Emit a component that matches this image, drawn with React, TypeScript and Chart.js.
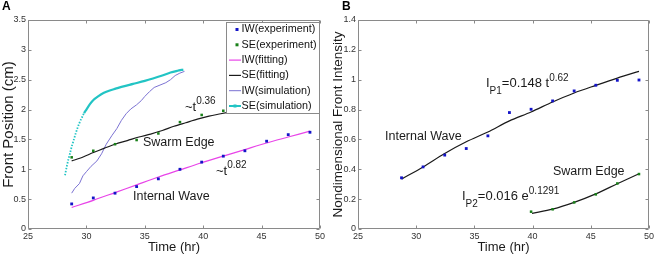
import React, { useEffect, useRef } from 'react';
import { Chart, registerables } from 'chart.js';

Chart.register(...registerables);

// ---------------- DATA ----------------
const timesExp = [28.74, 30.59, 32.45, 34.3, 36.16, 38.01, 39.87, 41.72, 43.57, 45.43, 47.28, 49.14];

// Panel A: front position (cm)
const iwExpA = [0.42, 0.52, 0.6, 0.71, 0.84, 1.0, 1.12, 1.22, 1.31, 1.47, 1.58, 1.62];
const seExpTimesA = [28.74, 30.59, 32.45, 34.3, 36.16, 38.01, 39.87, 41.72];
const seExpA = [1.2, 1.31, 1.42, 1.49, 1.6, 1.79, 1.91, 1.98];
const iwFitA = [0.36, 0.48, 0.61, 0.74, 0.87, 0.99, 1.11, 1.22, 1.33, 1.44, 1.54, 1.64];
const seFitTimesA = [28.74, 29.5, 30.6, 31.5, 32.45, 33.5, 34.5, 35.5, 36.5, 37.5, 38.5, 39.5, 40.5, 41.5, 42.5];
const seFitA = [1.14, 1.19, 1.28, 1.35, 1.42, 1.48, 1.54, 1.59, 1.65, 1.72, 1.78, 1.84, 1.89, 1.93, 1.97];
const iwSimTimesA = [28.74, 29.0, 29.4, 29.7, 30.0, 30.4, 30.9, 31.3, 31.7, 32.2, 32.6, 33.0, 33.4, 33.8, 34.3, 34.7, 35.0, 35.4, 35.8, 36.3, 36.8, 37.2, 37.6, 38.0, 38.4];
const iwSimA = [0.6, 0.68, 0.76, 0.89, 0.96, 1.05, 1.14, 1.26, 1.42, 1.57, 1.68, 1.82, 1.93, 2.01, 2.08, 2.15, 2.22, 2.3, 2.37, 2.41, 2.45, 2.5, 2.57, 2.61, 2.64];
const seSimTimesA = [28.17, 28.3, 28.45, 28.6, 28.74, 28.9, 29.05, 29.2, 29.35, 29.5, 29.65, 29.8, 30.0, 30.3, 30.6, 31.0, 31.5, 32.0, 32.5, 33.0, 34.0, 35.0, 35.7, 36.5, 37.2, 37.8, 38.3];
const seSimA = [0.9, 1.03, 1.16, 1.27, 1.38, 1.48, 1.58, 1.67, 1.75, 1.82, 1.88, 1.94, 2.0, 2.09, 2.16, 2.22, 2.28, 2.32, 2.35, 2.38, 2.43, 2.48, 2.52, 2.57, 2.62, 2.65, 2.67];

// Panel B: nondimensional front intensity
const iwExpB = [0.343, 0.416, 0.495, 0.539, 0.624, 0.78, 0.802, 0.858, 0.925, 0.963, 0.996, 0.998];
const iwFitB = [0.334, 0.416, 0.506, 0.584, 0.65, 0.724, 0.784, 0.851, 0.911, 0.962, 1.011, 1.056];
const seTimesB = [39.87, 41.72, 43.57, 45.43, 47.28, 49.14];
const seExpB = [0.116, 0.132, 0.178, 0.232, 0.305, 0.368];
const seFitTimesB = [39.95, 41.72, 43.57, 45.43, 47.28, 49.14];
const seFitB = [0.105, 0.133, 0.178, 0.235, 0.303, 0.37];

const xTicks = [25, 30, 35, 40, 45, 50];
const yTicksA = [0, 0.5, 1, 1.5, 2, 2.5, 3, 3.5];
const yTicksB = [0, 0.2, 0.4, 0.6, 0.8, 1, 1.2, 1.4];

const legendLabelsA = ['IW(experiment)', 'SE(experiment)', 'IW(fitting)', 'SE(fitting)', 'IW(simulation)', 'SE(simulation)'];

// ---------------- STYLE ----------------
const FONT = '"Liberation Sans", Arial, Helvetica, sans-serif';
const C_BLUE = '#1414c8';
const C_GREEN = '#198019';
const C_MAG = '#e845e8';
const C_BLACK = '#1a1a1a';
const C_PURPLE = '#7b72d2';
const C_CYAN = '#22c4c4';
const C_FRAME = '#8a8a8a';

const pts = (xs: number[], ys: number[]) => xs.map((x, i) => ({ x, y: ys[i] }));

type Part = { t: string; size: number; dy: number };

function drawRich(ctx: CanvasRenderingContext2D, x: number, y: number, parts: Part[], color = '#1a1a1a') {
  ctx.save();
  ctx.fillStyle = color;
  ctx.textBaseline = 'middle';
  ctx.textAlign = 'left';
  let cx = x;
  for (const p of parts) {
    ctx.font = `${p.size}px ${FONT}`;
    ctx.fillText(p.t, cx, y + p.dy);
    cx += ctx.measureText(p.t).width;
  }
  ctx.restore();
}

function drawFrame(chart: any, xt: number[], yt: number[]) {
  const { ctx, chartArea } = chart;
  const { left, right, top, bottom } = chartArea;
  const sx = chart.scales.x;
  const sy = chart.scales.y;
  const L = Math.round(left) + 0.5;
  const R = Math.round(right) - 0.5;
  const T = Math.round(top) + 0.5;
  const B = Math.round(bottom) - 0.5;
  ctx.save();
  ctx.strokeStyle = C_FRAME;
  ctx.lineWidth = 1;
  ctx.beginPath();
  ctx.rect(L, T, R - L, B - T);
  const tl = 3;
  for (const v of xt) {
    const px = Math.round(sx.getPixelForValue(v)) + 0.5;
    ctx.moveTo(px, B);
    ctx.lineTo(px, B - tl);
    ctx.moveTo(px, T);
    ctx.lineTo(px, T + tl);
  }
  for (const v of yt) {
    const py = Math.round(sy.getPixelForValue(v)) + 0.5;
    ctx.moveTo(L, py);
    ctx.lineTo(L + tl, py);
    ctx.moveTo(R, py);
    ctx.lineTo(R - tl, py);
  }
  ctx.stroke();
  ctx.restore();
}

function panelLetter(ctx: CanvasRenderingContext2D, letter: string, x: number, y: number) {
  ctx.save();
  ctx.font = `bold 12px ${FONT}`;
  ctx.fillStyle = '#000';
  ctx.textBaseline = 'middle';
  ctx.fillText(letter, x, y);
  ctx.restore();
}

function baseOptions(yMax: number, yStep: number, yTitle: string, yTitleSize: number, padRight: number, fmt: (v: number) => string) {
  return {
    animation: false as const,
    responsive: false,
    maintainAspectRatio: false,
    events: [],
    layout: { padding: { top: 20, right: padRight, left: 0, bottom: 0 } },
    plugins: { legend: { display: false }, tooltip: { enabled: false } },
    scales: {
      x: {
        type: 'linear' as const,
        min: 25,
        max: 50,
        afterBuildTicks: (s: any) => { s.ticks = xTicks.map((v) => ({ value: v })); },
        afterFit: (s: any) => { s.height = 30; },
        grid: { display: false, drawTicks: false },
        border: { display: false },
        ticks: { padding: 2, color: '#333', font: { family: FONT, size: 9 }, maxRotation: 0, autoSkip: false },
        title: { display: true, text: 'Time (hr)', color: '#1a1a1a', font: { family: FONT, size: 13 }, padding: { top: 0, bottom: 4 } },
      },
      y: {
        type: 'linear' as const,
        min: 0,
        max: yMax,
        ticks: { stepSize: yStep, padding: 2, color: '#333', font: { family: FONT, size: 9 }, autoSkip: false, callback: (v: any) => fmt(Number(v)) },
        afterFit: (s: any) => { s.width = 28; },
        grid: { display: false, drawTicks: false },
        border: { display: false },
        title: { display: true, text: yTitle, color: '#1a1a1a', font: { family: FONT, size: yTitleSize }, padding: { top: 0, bottom: 0 } },
      },
    },
  };
}

const fmtNum = (v: number) => String(Number(v.toFixed(2)));

function PanelA() {
  const ref = useRef<HTMLCanvasElement | null>(null);
  useEffect(() => {
    if (!ref.current) return;
    const overlay = {
      id: 'overlayA',
      afterDatasetsDraw(chart: any) {
        const ctx: CanvasRenderingContext2D = chart.ctx;
        // annotations
        drawRich(ctx, 185, 107, [
          { t: '~t', size: 13, dy: 0 },
          { t: '0.36', size: 10, dy: -6 },
        ]);
        drawRich(ctx, 143, 143, [{ t: 'Swarm Edge', size: 12.5, dy: 0 }]);
        drawRich(ctx, 216, 171, [
          { t: '~t', size: 13, dy: 0 },
          { t: '0.82', size: 10, dy: -6 },
        ]);
        drawRich(ctx, 133, 197, [{ t: 'Internal Wave', size: 12.5, dy: 0 }]);
        drawFrame(chart, xTicks, yTicksA);
        // legend
        const bx = 226, by = 22, bw = 93, bh = 91;
        ctx.save();
        ctx.fillStyle = '#fff';
        ctx.fillRect(bx, by, bw, bh);
        ctx.strokeStyle = C_FRAME;
        ctx.lineWidth = 1;
        ctx.strokeRect(bx + 0.5, by + 0.5, bw, bh);
        const colors = [C_BLUE, C_GREEN, C_MAG, C_BLACK, C_PURPLE, C_CYAN];
        legendLabelsA.forEach((lab, i) => {
          const yy = by + 7.5 + i * 15.3;
          ctx.fillStyle = colors[i];
          ctx.strokeStyle = colors[i];
          if (i < 2) {
            ctx.fillRect(235.5, yy - 1.5, 3, 3);
          } else {
            ctx.lineWidth = i === 5 ? 2 : i === 4 ? 1 : 1.2;
            ctx.beginPath();
            ctx.moveTo(229, yy);
            ctx.lineTo(241, yy);
            ctx.stroke();
            if (i === 5) ctx.fillRect(233.5, yy - 1.5, 3, 3);
          }
          ctx.fillStyle = '#111';
          ctx.font = `10.8px ${FONT}`;
          ctx.textBaseline = 'middle';
          ctx.textAlign = 'left';
          ctx.fillText(lab, 241.5, yy);
        });
        ctx.restore();
        panelLetter(ctx, 'A', 2, 7);
      },
    };
    const chart = new Chart(ref.current, {
      type: 'scatter',
      data: {
        datasets: [
          { label: 'IW(experiment)', data: pts(timesExp, iwExpA), showLine: false, pointStyle: 'rect', pointRadius: 2, borderWidth: 0, backgroundColor: C_BLUE },
          { label: 'SE(experiment)', data: pts(seExpTimesA, seExpA), showLine: false, pointStyle: 'rect', pointRadius: 1.8, borderWidth: 0, backgroundColor: C_GREEN },
          { label: 'IW(fitting)', data: pts(timesExp, iwFitA), showLine: true, pointRadius: 0, borderWidth: 1.2, borderColor: C_MAG, tension: 0.3 },
          { label: 'SE(fitting)', data: pts(seFitTimesA, seFitA), showLine: true, pointRadius: 0, borderWidth: 1.2, borderColor: C_BLACK, tension: 0.3 },
          { label: 'IW(simulation)', data: pts(iwSimTimesA, iwSimA), showLine: true, pointRadius: 0, borderWidth: 1, borderColor: C_PURPLE, tension: 0 },
          {
            label: 'SE(simulation)', data: pts(seSimTimesA, seSimA), showLine: true, pointRadius: 0, borderWidth: 2.2, borderColor: C_CYAN, tension: 0.3,
            segment: {
              borderDash: (c: any) => (c.p0.parsed.x < 29.8 ? [1.5, 1.5] : undefined),
              borderWidth: (c: any) => (c.p0.parsed.x < 29.8 ? 1.8 : 2.2),
            },
          },
        ],
      },
      options: baseOptions(3.5, 0.5, 'Front Position (cm)', 15, 10, fmtNum) as any,
      plugins: [overlay],
    });
    return () => chart.destroy();
  }, []);
  return <canvas ref={ref} width={330} height={259} style={{ position: 'absolute', left: 0, top: 0, width: 330, height: 259 }} />;
}

function PanelB() {
  const ref = useRef<HTMLCanvasElement | null>(null);
  useEffect(() => {
    if (!ref.current) return;
    const overlay = {
      id: 'overlayB',
      afterDatasetsDraw(chart: any) {
        const ctx: CanvasRenderingContext2D = chart.ctx;
        drawRich(ctx, 55, 137, [{ t: 'Internal Wave', size: 12.5, dy: 0 }]);
        drawRich(ctx, 156, 83, [
          { t: 'I', size: 13, dy: 0 },
          { t: 'P1', size: 10, dy: 8 },
          { t: '=0.148 t', size: 13, dy: 0 },
          { t: '0.62', size: 10, dy: -5 },
        ]);
        drawRich(ctx, 223, 172, [{ t: 'Swarm Edge', size: 12.5, dy: 0 }]);
        drawRich(ctx, 132, 196, [
          { t: 'I', size: 13, dy: 0 },
          { t: 'P2', size: 10, dy: 8 },
          { t: '=0.016 e', size: 13, dy: 0 },
          { t: '0.1291', size: 10, dy: -5 },
        ]);
        drawFrame(chart, xTicks, yTicksB);
        panelLetter(ctx, 'B', 12, 7);
      },
    };
    const chart = new Chart(ref.current, {
      type: 'scatter',
      data: {
        datasets: [
          { label: 'IW', data: pts(timesExp, iwExpB), showLine: false, pointStyle: 'rect', pointRadius: 2, borderWidth: 0, backgroundColor: C_BLUE },
          { label: 'SE', data: pts(seTimesB, seExpB), showLine: false, pointStyle: 'rect', pointRadius: 1.8, borderWidth: 0, backgroundColor: C_GREEN },
          { label: 'IW fit', data: pts(timesExp, iwFitB), showLine: true, pointRadius: 0, borderWidth: 1.2, borderColor: C_BLACK, tension: 0.3 },
          { label: 'SE fit', data: pts(seFitTimesB, seFitB), showLine: true, pointRadius: 0, borderWidth: 1.2, borderColor: C_BLACK, tension: 0.3 },
        ],
      },
      options: baseOptions(1.4, 0.2, 'Nondimensional Front Intensity', 13.5, 6, fmtNum) as any,
      plugins: [overlay],
    });
    return () => chart.destroy();
  }, []);
  return <canvas ref={ref} width={326} height={259} style={{ position: 'absolute', left: 330, top: 0, width: 326, height: 259 }} />;
}

export default function App() {
  return (
    <div style={{ position: 'fixed', left: 0, top: 0, width: 656, height: 259, background: '#fff', overflow: 'hidden' }}>
      <PanelA />
      <PanelB />
    </div>
  );
}
